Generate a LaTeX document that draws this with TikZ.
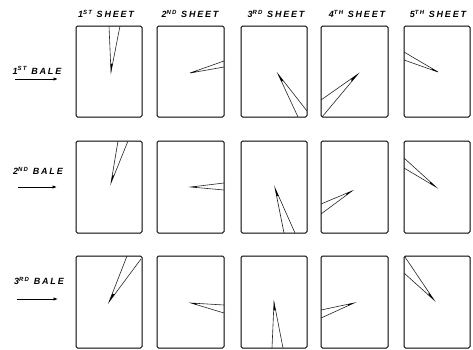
\documentclass[tikz,border=0pt]{standalone}
\usepackage{fontspec}
\newfontfamily\hand[LetterSpace=20]{Liberation Sans}
\usetikzlibrary{arrows.meta,calc}
\tikzset{
  sheet/.style={draw=black, line width=1.0pt, rounded corners=1.5pt},
  wedgeline/.style={draw=black!85, line width=0.6pt, line join=miter},
  lbl/.style={font=\hand\bfseries\itshape\fontsize{9}{10}\selectfont, inner sep=0pt},
  feed/.style={draw=black, line width=0.9pt, -{Latex[length=4.5pt,width=3.5pt]}}
}
\newcommand{\wedg}[3]{%
  \draw[wedgeline] #2 -- #1 -- #3;
  \fill[black] #1 -- ($#1!0.18!#2$) -- ($#1!0.18!#3$) -- cycle;
}
\begin{document}
\begin{tikzpicture}[x=1pt,y=-1pt]
\useasboundingbox (0,0) rectangle (473,349);
\fill[white] (0,0) rectangle (473,349);
% sheet labels
\node[lbl] (s1) at (106,14) {1\textsuperscript{ST} SHEET};
\node[lbl] (s2) at (190,14) {2\textsuperscript{ND} SHEET};
\node[lbl] (s3) at (276,14) {3\textsuperscript{RD} SHEET};
\node[lbl] (s4) at (357,14) {4\textsuperscript{TH} SHEET};
\node[lbl] (s5) at (438,14) {5\textsuperscript{TH} SHEET};
% bale labels and arrows
\node[lbl] (b1) at (37,70) {1\textsuperscript{ST} BALE};
\node[lbl] (b2) at (38,171) {2\textsuperscript{ND} BALE};
\node[lbl] (b3) at (39,281) {3\textsuperscript{RD} BALE};
\coordinate (a1s) at (15,79);  \coordinate (a1e) at (58,79);
\coordinate (a2s) at (18,187); \coordinate (a2e) at (57,187);
\coordinate (a3s) at (17,299); \coordinate (a3e) at (58,299);
\draw[feed] (a1s) -- (a1e);
\draw[feed] (a2s) -- (a2e);
\draw[feed] (a3s) -- (a3e);
% boxes
\foreach \yt/\yb in {26/117, 141/233, 256/348}{
  \foreach \xl/\xr in {76/142, 157/224, 241/307, 321/388, 404/470}{
    \draw[sheet] (\xl,\yt) rectangle (\xr,\yb);
  }
}
% row 1
\wedg{(111,72)}{(109,26)}{(120,26)}
\wedg{(190,73)}{(224,61)}{(224,67)}
\wedg{(278,74)}{(298,117)}{(307,111)}
\wedg{(358,74)}{(321,100)}{(322,117)}
\wedg{(438,72)}{(404,52)}{(404,60)}
% row 2
\wedg{(111,183)}{(118,141)}{(128,141)}
\wedg{(191,187)}{(224,183)}{(224,190)}
\wedg{(275,188)}{(284,233)}{(295,233)}
\wedg{(352,191)}{(321,204)}{(321,214)}
\wedg{(436,187)}{(404,158)}{(404,168)}
% row 3
\wedg{(109,302)}{(127,256)}{(141,259)}
\wedg{(191,303)}{(224,305)}{(224,313)}
\wedg{(274,302)}{(272,348)}{(283,348)}
\wedg{(354,303)}{(321,310)}{(321,318)}
\wedg{(434,300)}{(405,257)}{(404,273)}
\end{tikzpicture}
\end{document}
